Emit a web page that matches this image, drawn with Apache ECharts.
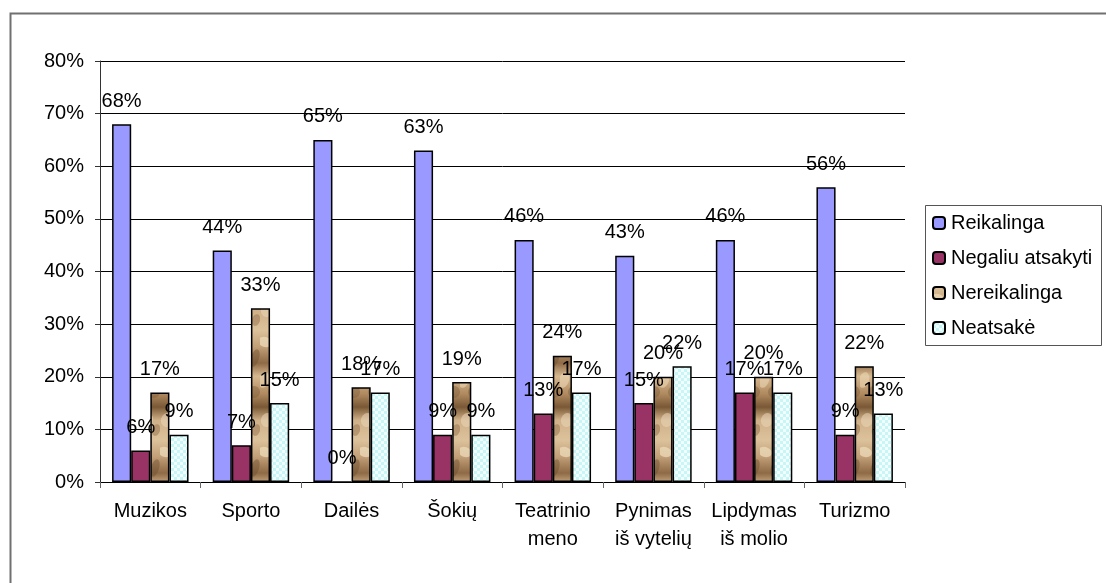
<!DOCTYPE html>
<html>
<head>
<meta charset="utf-8">
<script src="https://cdn.jsdelivr.net/npm/echarts@6/dist/echarts.min.js"></script>
<style>
html,body{margin:0;padding:0;background:#fff;}
#chart{width:1106px;height:583px;}
</style>
</head>
<body>
<div id="chart"></div>
<script>
const categories = ['Muzikos', 'Sporto', 'Dailės', 'Šokių', 'Teatrinio\nmeno', 'Pynimas\niš vytelių', 'Lipdymas\niš molio', 'Turizmo'];
const seriesNames = ['Reikalinga', 'Negaliu atsakyti', 'Nereikalinga', 'Neatsakė'];
const reikalinga = [68, 44, 65, 63, 46, 43, 46, 56];
const negaliuAtsakyti = [6, 7, 0, 9, 13, 15, 17, 9];
const nereikalinga = [17, 33, 18, 19, 24, 20, 20, 22];
const neatsake = [9, 15, 17, 9, 17, 22, 17, 13];
const yTicks = [0, 80, 10];

function stoneTexture() {
  const c = document.createElement('canvas');
  c.width = 20; c.height = 110;
  const g = c.getContext('2d');
  const grd = g.createLinearGradient(0, 0, 0, 110);
  grd.addColorStop(0, '#dcc29c');
  grd.addColorStop(0.15, '#c2a078');
  grd.addColorStop(0.3, '#8e6a46');
  grd.addColorStop(0.42, '#d6b890');
  grd.addColorStop(0.58, '#b08a60');
  grd.addColorStop(0.7, '#7a5836');
  grd.addColorStop(0.82, '#cfb088');
  grd.addColorStop(1, '#dcc29c');
  g.fillStyle = grd;
  g.fillRect(0, 0, 20, 110);
  const blobs = [
    [5, 12, 7, 5, 'rgba(240,222,190,0.7)'], [15, 28, 4, 9, 'rgba(110,80,50,0.45)'],
    [4, 50, 5, 8, 'rgba(235,215,180,0.6)'], [14, 62, 6, 6, 'rgba(120,90,55,0.4)'],
    [7, 90, 6, 7, 'rgba(235,215,185,0.55)'], [16, 100, 4, 6, 'rgba(130,95,60,0.4)']
  ];
  blobs.forEach(b => {
    g.fillStyle = b[4];
    g.beginPath();
    g.ellipse(b[0], b[1], b[2], b[3], 0.3, 0, Math.PI * 2);
    g.fill();
  });
  return c;
}
function checkTexture() {
  const c = document.createElement('canvas');
  c.width = 6; c.height = 6;
  const g = c.getContext('2d');
  g.fillStyle = '#c8f6f6';
  g.fillRect(0, 0, 6, 6);
  g.fillStyle = '#f2ffff';
  g.fillRect(0, 0, 3, 3);
  g.fillRect(3, 3, 3, 3);
  return c;
}

const FONT = "'Liberation Sans', Arial, sans-serif";
const FS = 20;
const colors = ['#9999ff', '#993366', { image: stoneTexture(), repeat: 'repeat' }, { image: checkTexture(), repeat: 'repeat' }];
const dataSets = [reikalinga, negaliuAtsakyti, nereikalinga, neatsake];

const chart = echarts.init(document.getElementById('chart'), null, { renderer: 'canvas' });
chart.setOption({
  backgroundColor: '#ffffff',
  animation: false,
  textStyle: { fontFamily: FONT },
  graphic: [
    { type: 'rect', left: 8, top: 11, shape: { width: 1200, height: 700 }, style: { fill: 'none', stroke: '#707070', lineWidth: 2 }, z: 0 },
    { type: 'rect', left: 925, top: 205, shape: { width: 176, height: 140 }, style: { fill: '#fff', stroke: '#555', lineWidth: 1 }, z: 0 }
  ],
  grid: { left: 100, right: 201, top: 61, bottom: 101, containLabel: false },
  legend: {
    orient: 'vertical',
    left: 932,
    top: 213,
    padding: 0,
    itemWidth: 12,
    itemHeight: 12,
    itemGap: 15,
    textStyle: { fontSize: FS, color: '#000', fontFamily: FONT, padding: [0, 0, 0, 1] },
    data: seriesNames
  },
  xAxis: {
    type: 'category',
    data: categories,
    axisLine: { lineStyle: { color: '#000', width: 1 } },
    axisTick: { show: true, length: 6, lineStyle: { color: '#666' } },
    axisLabel: { interval: 0, margin: 15, fontSize: FS, color: '#000', lineHeight: 28, fontFamily: FONT }
  },
  yAxis: {
    type: 'value',
    min: yTicks[0],
    max: yTicks[1],
    interval: yTicks[2],
    axisLine: { show: true, lineStyle: { color: '#333', width: 1 } },
    axisTick: { show: true, length: 5, lineStyle: { color: '#333' } },
    axisLabel: { formatter: '{value}%', fontSize: FS, color: '#000', margin: 16, fontFamily: FONT },
    splitLine: { lineStyle: { color: '#000', width: 1 } }
  },
  series: seriesNames.map((name, i) => ({
    name: name,
    type: 'bar',
    data: dataSets[i],
    barGap: '0%',
    barCategoryGap: '24%',
    itemStyle: { color: colors[i], borderColor: '#000', borderWidth: 1.5 },
    label: { show: true, position: 'top', distance: 13, formatter: '{c}%', fontSize: FS, color: '#000', fontFamily: FONT }
  }))
});
</script>
</body>
</html>
